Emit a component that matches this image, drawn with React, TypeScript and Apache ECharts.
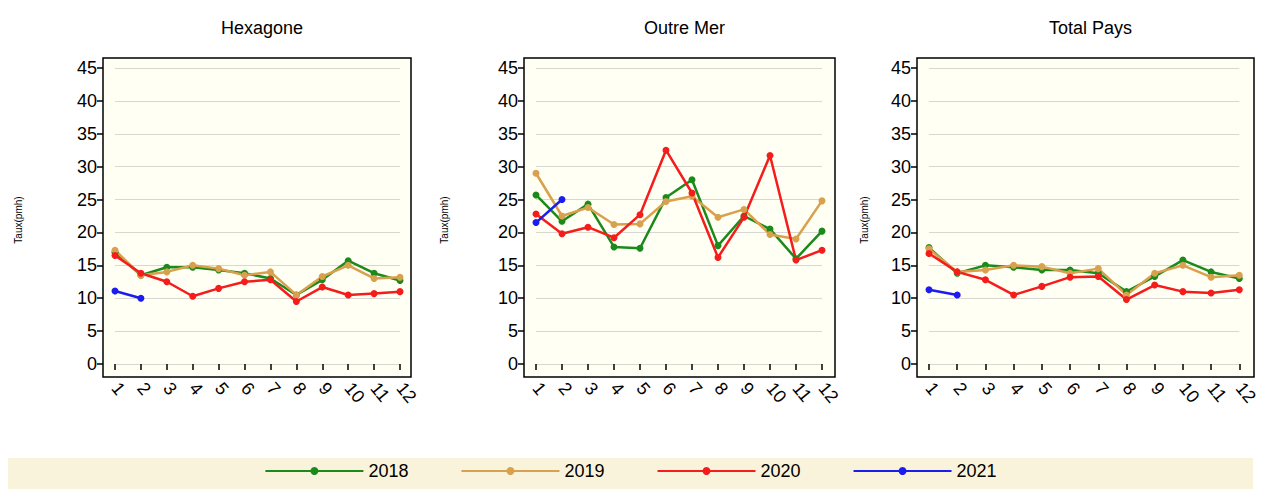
import {useEffect, useRef} from "react";
import * as echarts from "echarts";

const months = ["1", "2", "3", "4", "5", "6", "7", "8", "9", "10", "11", "12"];
const years = ["2018", "2019", "2020", "2021"];
const colors = ["#1b8a1b", "#d9a04e", "#f51c1c", "#1c1cf0"];
const panelTitles = ["Hexagone", "Outre Mer", "Total Pays"];

const hexagone = [
    [17, 13.5, 14.7, 14.7, 14.3, 13.8, 13, 10.5, 12.8, 15.7, 13.8, 12.7],
    [17.3, 13.5, 14, 15, 14.5, 13.5, 14, 10.5, 13.3, 15, 13, 13.2],
    [16.5, 13.8, 12.5, 10.3, 11.5, 12.5, 12.8, 9.5, 11.7, 10.5, 10.7, 11],
    [11.1, 10],
];
const outreMer = [
    [25.7, 21.7, 24.3, 17.8, 17.6, 25.3, 28, 18, 22.5, 20.5, 16, 20.2],
    [29, 22.5, 23.8, 21.2, 21.3, 24.7, 25.5, 22.3, 23.5, 19.7, 19, 24.8],
    [22.8, 19.8, 20.8, 19.2, 22.7, 32.5, 26, 16.2, 22.3, 31.7, 15.8, 17.3],
    [21.5, 25],
];
const totalPays = [
    [17.7, 13.8, 15, 14.7, 14.3, 14.3, 13.8, 11, 13.3, 15.8, 14, 13],
    [17.5, 14, 14.3, 15, 14.8, 13.8, 14.5, 10.5, 13.8, 15, 13.2, 13.5],
    [16.8, 14, 12.8, 10.5, 11.8, 13.2, 13.3, 9.8, 12, 11, 10.8, 11.3],
    [11.3, 10.5],
];
const panelData = [hexagone, outreMer, totalPays];

// frame [left, right] and point span [left, width] per panel
const frames = [[103, 411], [524, 835], [917, 1254]];
const spans = [[115, 285], [536, 286], [929, 314]];
const font = "Arial, 'Liberation Sans', sans-serif";

export default function App() {
    const domRef = useRef<HTMLDivElement>(null);

    useEffect(() => {
        document.body.style.margin = "0";
        if (!domRef.current) return;
        const chart = echarts.init(domRef.current, null, {renderer: "svg"});
        const graphic: any[] = [
            {type: "rect", shape: {x: 8, y: 458, width: 1245, height: 31}, style: {fill: "#faf3dc"}, z: -10},
        ];
        frames.forEach(([l, r], i) => {
            graphic.push({type: "rect", shape: {x: l, y: 58, width: r - l, height: 319}, style: {fill: "#fffff4", stroke: "#000", lineWidth: 1.5}, z: -5});
            graphic.push({type: "text", x: [18, 444, 864][i], y: 220, rotation: Math.PI / 2, style: {text: "Taux(pmh)", fill: "#000", font: `10px ${font}`, align: "center", verticalAlign: "middle"}});
        });
        chart.setOption({
            animation: false,
            textStyle: {fontFamily: font},
            title: panelTitles.map((t, i) => ({
                text: t, left: (frames[i][0] + frames[i][1]) / 2, top: 14, textAlign: "center",
                textStyle: {fontSize: 18, fontWeight: "normal", color: "#000", fontFamily: font},
            })),
            legend: {
                bottom: 4, itemGap: 52, itemWidth: 98, itemHeight: 10,
                textStyle: {fontSize: 18, color: "#000"},
                data: years,
            },
            grid: spans.map(([l, w]) => ({left: l, width: w, top: 68, height: 296})),
            xAxis: spans.map((_, i) => ({
                type: "category", gridIndex: i, data: months, boundaryGap: false, offset: 13,
                axisLine: {show: false},
                axisTick: {alignWithLabel: true, length: 6, lineStyle: {color: "#000", width: 1.5}},
                axisLabel: {rotate: -50, fontSize: 18, color: "#000", interval: 0, margin: 8},
            })),
            yAxis: spans.map((_, i) => ({
                type: "value", gridIndex: i, min: 0, max: 45, interval: 5, offset: 12,
                axisLine: {show: false},
                axisTick: {show: true, length: 6, lineStyle: {color: "#000", width: 1.5}},
                axisLabel: {fontSize: 18, color: "#000", margin: 6},
                splitLine: {lineStyle: {color: "#d8d8d0"}},
            })),
            graphic,
            series: panelData.flatMap((sets, p) => sets.map((vals, k) => ({
                name: years[k], type: "line", xAxisIndex: p, yAxisIndex: p, data: vals,
                symbol: "circle", symbolSize: 7, color: colors[k],
                lineStyle: {width: 2.5, color: colors[k]},
            }))),
        });
        return () => chart.dispose();
    }, []);

    return <div ref={domRef} style={{width: 1261, height: 489}} />;
}
